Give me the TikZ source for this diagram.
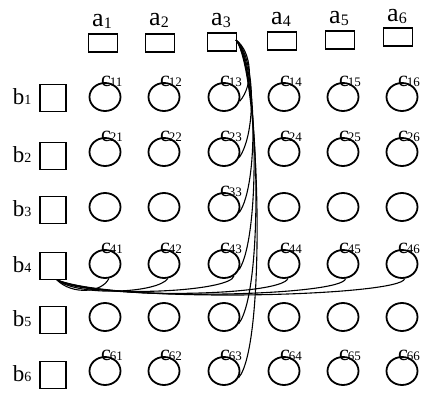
\documentclass[tikz,border=0pt]{standalone}
\usepackage{fontspec}
\setmainfont{Liberation Serif}
\usetikzlibrary{shapes.geometric}
\newcommand{\alab}[1]{{\fontsize{26}{26}\selectfont a}\raisebox{-2pt}{\fontsize{16}{16}\selectfont #1}}
\newcommand{\blab}[1]{{\fontsize{23}{23}\selectfont b}{\fontsize{14}{14}\selectfont #1}}
\newcommand{\clab}[1]{{\fontsize{22}{22}\selectfont c}\kern-1pt{\fontsize{13}{13}\selectfont #1}}
\begin{document}
\begin{tikzpicture}[x=1pt,y=-1pt,
  sq/.style={draw,line width=1.8pt,minimum width=29pt,minimum height=18pt,inner sep=0pt},
  bsq/.style={draw,line width=1.8pt,minimum width=26pt,minimum height=27pt,inner sep=0pt},
  cell/.style={draw,ellipse,line width=1.8pt,minimum width=31pt,minimum height=28pt,inner sep=0pt},
  lab/.style={inner sep=0pt,anchor=base},
  wire/.style={line width=1.1pt}]
\useasboundingbox (0,0) rectangle (424,393);
% a squares and labels
\foreach \i/\x/\y/\by in {1/103/43/27,2/160/43/26,3/222/42/26,4/282/41/25,5/340/40/24,6/398/37/22}{
  \node[sq] (a\i) at (\x,\y) {};
  \node[lab] (al\i) at (\x-1,\by) {\alab{\i}};
}
% b squares and labels
\foreach \i/\y in {1/98,2/156,3/210,4/266,5/320,6/375}{
  \node[bsq] (b\i) at (53,\y) {};
  \node[lab] (bl\i) at (22,\y+7) {\blab{\i}};
}
% circles
\foreach \i/\y in {1/97,2/152,3/207,4/264,5/317,6/371}{
  \foreach \j/\x in {1/105,2/164,3/224,4/284,5/343,6/402}{
    \node[cell] (c\i\j) at (\x,\y) {};
  }
}
% c labels
\foreach \i/\j in {1/1,1/2,1/3,1/4,1/5,1/6,2/1,2/2,2/3,2/4,2/5,2/6,3/3,4/1,4/2,4/3,4/4,4/5,4/6,6/1,6/2,6/3,6/4,6/5,6/6}{
  \node[lab,anchor=base west] (cl\i\j) at ([xshift=-4pt,yshift=-4pt]c\i\j.north) {\clab{\i\j}};
}
% connectors from a3
\coordinate (A) at (236,40);
\draw[wire] (A) .. controls (252,52) and (254,85) .. (c13.-15);
\draw[wire] (A) .. controls (255,56) and (257,132) .. (c23.-20);
\draw[wire] (A) .. controls (257,60) and (259,185) .. (c33.-20);
\draw[wire] (A) .. controls (258,64) and (261,235) .. (c43.-20);
\draw[wire] (A) .. controls (259,68) and (265,290) .. (c53.-25);
\draw[wire] (A) .. controls (260,72) and (267,345) .. (c63.-25);
% connectors from b4
\coordinate (B) at (57,280);
\draw[wire] (B) .. controls (72,295) and (102,293) .. (c41.-75);
\draw[wire] (B) .. controls (80,297) and (158,293) .. (c42.-75);
\draw[wire] (B) .. controls (90,299) and (232,292) .. (c43.-50);
\draw[wire] (B) .. controls (100,300) and (282,296) .. (c44.-75);
\draw[wire] (B) .. controls (110,302) and (342,296) .. (c45.-80);
\draw[wire] (B) .. controls (120,304) and (402,296) .. (c46.-80);
\end{tikzpicture}
\end{document}
